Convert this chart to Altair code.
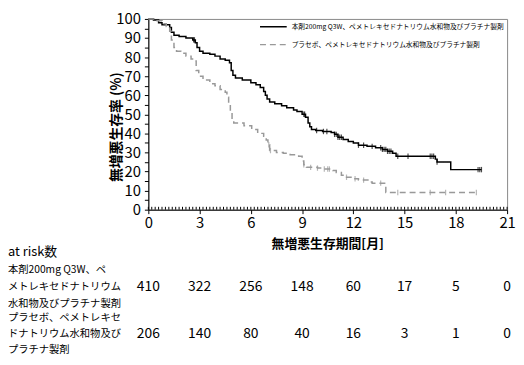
import altair as alt
import pandas as pd

FONT = "Noto Sans CJK JP"

arm_labels = [
    "本剤200mg Q3W、ペメトレキセドナトリウム水和物及びプラチナ製剤",
    "プラセボ、ペメトレキセドナトリウム水和物及びプラチナ製剤",
]
arm_colors = ["#000000", "#999999"]

pembro_t = [0, 0.3, 0.6, 0.8, 1.25, 1.35, 1.5, 1.8, 2.2, 2.6, 2.75, 2.85, 3.0, 3.2, 3.6, 3.9,
            4.2, 4.5, 4.75, 4.85, 4.95, 5.1, 5.5, 6.0, 6.3, 6.55, 6.75, 6.85, 6.95, 7.1, 7.4,
            7.8, 8.1, 8.5, 8.7, 9.0, 9.2, 9.35, 9.45, 9.55, 9.8, 10.2, 10.7, 10.9, 11.1, 11.4,
            11.7, 12.0, 12.3, 12.8, 13.3, 13.7, 14.0, 14.3, 14.5, 16.8, 16.9, 17.7, 19.5]
pembro_s = [100, 99.5, 98, 97, 95.5, 93, 91.5, 90.8, 90, 89, 87.5, 85, 83, 82, 81.5, 80.5,
            79, 78.3, 77, 73, 70.5, 69, 68, 66.5, 65.5, 64, 62, 60, 58, 56.5, 55.5,
            54.5, 53.4, 52.3, 51.5, 50, 48.5, 45.5, 43.5, 42, 41.5, 41, 40.5, 39.5, 38, 36.8,
            35.8, 35, 33.8, 33.2, 32.5, 31.6, 30.6, 29.6, 28, 26.5, 25, 21, 21]

placebo_t = [0, 0.4, 0.8, 1.05, 1.25, 1.35, 1.5, 1.65, 1.9, 2.2, 2.5, 2.7, 2.8, 2.95, 3.2, 3.6,
             3.9, 4.2, 4.5, 4.6, 4.7, 4.8, 4.9, 5.0, 5.6, 6.05, 6.4, 6.75, 6.9, 7.0, 7.1, 7.5,
             7.9, 8.3, 8.8, 9.0, 9.1, 9.25, 9.9, 10.3, 10.8, 11.0, 11.3, 11.5, 12.0, 12.3,
             12.9, 13.1, 13.9, 19.2]
placebo_s = [100, 99, 97.5, 96, 93.5, 89, 85, 83, 82, 80.5, 79, 78, 73, 70, 68, 66,
             65, 63, 61.6, 59, 55, 51, 47, 45.5, 44, 42, 40, 38.5, 36.5, 34, 31, 30,
             29.6, 28.8, 28, 25.5, 23.5, 22.2, 21.8, 21.3, 20.5, 19.5, 18, 17, 16.2, 15.5,
             14.5, 13.9, 9, 9]

pembro_cens = [2.65, 2.7, 9.1, 9.15, 9.85, 10.25, 10.45, 10.9, 11.0, 11.1, 11.2, 11.3, 12.3,
               12.6, 13.1, 13.6, 13.7, 13.8, 13.9, 14.0, 14.1, 14.2, 14.6, 15.2, 16.5, 16.6,
               16.7, 16.9, 19.3, 19.4, 19.5]
placebo_cens = [7.05, 7.15, 9.1, 9.5, 9.9, 10.3, 10.5, 10.6, 11.6, 12.1, 12.6, 13.6, 14.6,
                16.5, 17.4, 19.2]

risk_months = [0, 3, 6, 9, 12, 15, 18, 21]
risk_pembro = [410, 322, 256, 148, 60, 17, 5, 0]
risk_placebo = [206, 140, 80, 40, 16, 3, 1, 0]

x_ticks = [0, 3, 6, 9, 12, 15, 18, 21]
x_minor = [round(i * 0.2, 2) for i in range(0, 106)]
y_ticks = list(range(0, 101, 5))

pembro_lines = ["本剤200mg Q3W、ペ", "メトレキセドナトリウム", "水和物及びプラチナ製剤"]
placebo_lines = ["プラセボ、ペメトレキセ", "ドナトリウム水和物及び", "プラチナ製剤"]


def step_value(ts, ss, t):
    v = ss[0]
    for ti, si in zip(ts, ss):
        if ti <= t:
            v = si
    return v


lines_df = pd.concat([
    pd.DataFrame({"t": pembro_t, "s": pembro_s, "arm": arm_labels[0]}),
    pd.DataFrame({"t": placebo_t, "s": placebo_s, "arm": arm_labels[1]}),
])
cens_df = pd.concat([
    pd.DataFrame({"t": pembro_cens,
                  "s": [step_value(pembro_t, pembro_s, t) for t in pembro_cens],
                  "arm": arm_labels[0]}),
    pd.DataFrame({"t": placebo_cens,
                  "s": [step_value(placebo_t, placebo_s, t) for t in placebo_cens],
                  "arm": arm_labels[1]}),
])

xscale = alt.Scale(domain=[0, 21], nice=False, zero=False)
yscale = alt.Scale(domain=[0, 100], nice=False)
color_scale = alt.Scale(domain=arm_labels, range=arm_colors)
dash_scale = alt.Scale(domain=arm_labels, range=[[1, 0], [6, 4]])

x_axis = alt.Axis(
    values=x_ticks, title="無増悪生存期間[月]", titleFont=FONT, titleFontSize=13,
    titleFontWeight="bold", titleX=181, titleY=34, titleBaseline="middle",
    labelFont=FONT, labelFontSize=15, labelColor="#000", labelPadding=2,
    tickSize=4, tickColor="#000", domainColor="#000", grid=False, labelFlush=False,
    labelOverlap=False,
)
y_axis = alt.Axis(
    values=y_ticks, title="無増悪生存率 (%)", titleFont=FONT, titleFontSize=14,
    titleFontWeight="bold", titleX=-32, titleY=109, titleBaseline="middle",
    titleAngle=270,
    labelExpr="datum.value % 10 === 0 ? datum.label : ''",
    labelFont=FONT, labelFontSize=15, labelColor="#000", labelPadding=4,
    tickSize=4, tickColor="#000", domainColor="#000", grid=False,
    labelOverlap=False,
)

lines = alt.Chart(lines_df).mark_line(interpolate="step-after", strokeWidth=1.5).encode(
    x=alt.X("t:Q", scale=xscale, axis=x_axis),
    y=alt.Y("s:Q", scale=yscale, axis=y_axis),
    color=alt.Color("arm:N", scale=color_scale, legend=None),
    strokeDash=alt.StrokeDash("arm:N", scale=dash_scale, legend=None),
)

cens = alt.Chart(cens_df).mark_point(shape="M0,-1L0,1", size=30, strokeWidth=1.2, filled=False).encode(
    x=alt.X("t:Q", scale=xscale, axis=x_axis),
    y=alt.Y("s:Q", scale=yscale, axis=y_axis),
    color=alt.Color("arm:N", scale=color_scale, legend=None),
)

minor = alt.Chart(pd.DataFrame({"m": x_minor})).mark_rule(color="#000", strokeWidth=1).encode(
    x=alt.X("m:Q", scale=xscale, axis=x_axis),
    y=alt.datum(0, scale=yscale, axis=y_axis),
    y2=alt.datum(1.5),
)

risk_df = pd.DataFrame({"m": risk_months, "a": risk_pembro, "b": risk_placebo})
risk_a = alt.Chart(risk_df).mark_text(font=FONT, fontSize=14, color="#000", baseline="middle").encode(
    x=alt.X("m:Q", scale=xscale, axis=x_axis), y=alt.value(271), text="a:Q")
risk_b = alt.Chart(risk_df).mark_text(font=FONT, fontSize=14, color="#000", baseline="middle").encode(
    x=alt.X("m:Q", scale=xscale, axis=x_axis), y=alt.value(319), text="b:Q")


def label(txt, ypix, size=10.4):
    return alt.Chart(pd.DataFrame({"txt": [txt]})).mark_text(
        font=FONT, fontSize=size, color="#000", align="left", baseline="middle"
    ).encode(x=alt.value(-142), y=alt.value(ypix), text="txt:N")


texts = [label("at risk数", 236, 13)]
for i, ln in enumerate(pembro_lines):
    texts.append(label(ln, 254 + 17 * i))
for i, ln in enumerate(placebo_lines):
    texts.append(label(ln, 303 + 16 * i))

# manual legend
legend_layers = []
for i, (lab, col, dash) in enumerate(zip(arm_labels, arm_colors, [[1, 0], [6, 4]])):
    ly = 8 + 18 * i
    legend_layers.append(
        alt.Chart(pd.DataFrame({"k": [lab]})).mark_rule(
            color=col, strokeWidth=1.5, strokeDash=dash
        ).encode(x=alt.value(113), x2=alt.value(140), y=alt.value(ly))
    )
    legend_layers.append(
        alt.Chart(pd.DataFrame({"k": [lab]})).mark_text(
            font=FONT, fontSize=6.8, color="#000", align="left", baseline="middle"
        ).encode(x=alt.value(145), y=alt.value(ly), text="k:N")
    )

chart = alt.layer(lines, cens, minor, risk_a, risk_b, *texts, *legend_layers).properties(
    width=363, height=193,
    autosize=alt.AutoSizeParams(type="none"),
    padding={"left": 142, "top": 9, "right": 9, "bottom": 147},
).configure_view(stroke="#888888", strokeWidth=1)

chart.save("out.html", embed_options={"renderer": "svg", "actions": False})
